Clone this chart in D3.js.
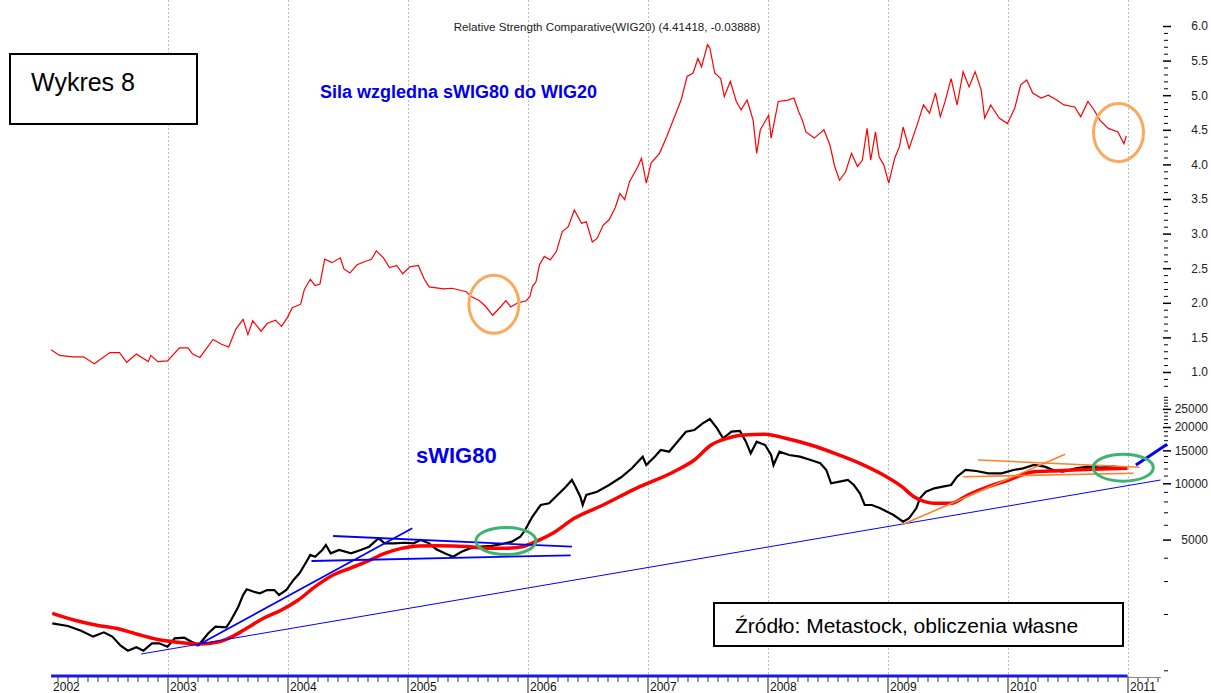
<!DOCTYPE html>
<html>
<head>
<meta charset="utf-8">
<script src="https://cdn.jsdelivr.net/npm/d3@7"></script>
<style>
  html, body { margin: 0; padding: 0; background: #fff; }
  svg { display: block; font-family: "Liberation Sans", Arial, sans-serif; }
</style>
</head>
<body>
<svg id="chart" width="1211" height="693"></svg>
<script>
// Relative strength sWIG80 / WIG20 (decimal year, value)
const rsYears = [2002.03,2002.10,2002.21,2002.30,2002.39,2002.52,2002.60,2002.66,2002.74,2002.84,2002.86,2002.92,
  2003.00,2003.10,2003.17,2003.21,2003.27,2003.38,2003.45,2003.51,2003.57,2003.63,2003.67,2003.71,2003.78,2003.83,2003.90,2003.95,
  2004.00,2004.04,2004.11,2004.14,2004.19,2004.23,2004.27,2004.31,2004.37,2004.44,2004.47,2004.52,2004.58,2004.65,2004.70,2004.74,2004.80,2004.85,2004.91,2004.96,
  2005.02,2005.09,2005.14,2005.18,2005.30,2005.37,2005.49,2005.53,2005.60,2005.65,2005.71,2005.78,2005.82,2005.86,2005.92,2005.99,
  2006.02,2006.04,2006.07,2006.10,2006.14,2006.19,2006.24,2006.29,2006.34,2006.39,2006.45,2006.49,2006.54,2006.58,2006.63,2006.68,2006.73,2006.77,2006.81,2006.85,2006.92,2006.95,2006.99,
  2007.03,2007.10,2007.16,2007.23,2007.28,2007.33,2007.38,2007.42,2007.45,2007.50,2007.52,2007.56,2007.61,2007.64,2007.69,2007.74,2007.78,2007.83,2007.88,2007.91,2007.94,
  2008.01,2008.03,2008.09,2008.17,2008.22,2008.26,2008.29,2008.32,2008.39,2008.47,2008.52,2008.56,2008.60,2008.65,2008.70,2008.75,2008.79,2008.83,2008.86,2008.90,2008.93,2008.97,
  2009.01,2009.06,2009.10,2009.13,2009.18,2009.25,2009.30,2009.35,2009.40,2009.44,2009.48,2009.53,2009.58,2009.63,2009.68,2009.73,2009.78,2009.81,2009.86,2009.93,
  2010.00,2010.06,2010.11,2010.16,2010.21,2010.28,2010.34,2010.41,2010.47,2010.56,2010.61,2010.67,2010.72,2010.77,2010.84,2010.92,2010.97,2010.99];
const rsValues = [1.32,1.24,1.22,1.22,1.12,1.28,1.28,1.14,1.26,1.15,1.24,1.15,
  1.16,1.35,1.35,1.26,1.21,1.47,1.40,1.36,1.62,1.76,1.54,1.74,1.59,1.70,1.75,1.66,
  1.79,1.93,1.98,2.19,2.34,2.25,2.27,2.63,2.58,2.65,2.49,2.43,2.55,2.60,2.63,2.75,2.65,2.51,2.54,2.42,
  2.52,2.54,2.34,2.23,2.20,2.21,2.16,2.09,2.03,1.95,1.82,1.95,2.03,1.94,2.00,2.03,
  2.09,2.23,2.30,2.55,2.67,2.62,2.74,3.03,3.10,3.34,3.15,3.17,2.88,2.93,3.12,3.20,3.37,3.58,3.49,3.75,3.97,4.09,3.73,
  4.02,4.16,4.40,4.71,4.93,5.27,5.32,5.53,5.41,5.73,5.68,5.32,5.24,4.98,5.20,4.91,4.79,4.93,4.64,4.16,4.50,
  4.71,4.38,4.91,4.93,4.96,4.76,4.64,4.47,4.38,4.50,4.28,3.97,3.77,3.89,4.16,3.97,4.06,4.52,4.06,4.47,4.11,3.99,
  3.73,4.09,4.26,4.54,4.23,4.59,4.86,4.74,5.03,4.69,4.91,5.24,4.86,5.34,5.12,5.34,5.08,4.67,4.86,4.67,
  4.59,4.81,5.15,5.22,5.03,4.96,5.00,4.93,4.86,4.83,4.69,4.91,4.79,4.64,4.52,4.47,4.30,4.41];

// sWIG80 index
const idxYears = [2002.04,2002.17,2002.28,2002.38,2002.47,2002.54,2002.61,2002.67,2002.74,2002.80,2002.87,2002.93,
  2003.00,2003.06,2003.14,2003.20,2003.26,2003.34,2003.40,2003.49,2003.53,2003.59,2003.63,2003.66,2003.72,2003.77,2003.83,2003.89,2003.93,2003.99,
  2004.05,2004.10,2004.15,2004.19,2004.23,2004.29,2004.32,2004.36,2004.43,2004.53,2004.61,2004.68,2004.76,2004.81,2004.89,2004.98,
  2005.05,2005.11,2005.18,2005.24,2005.31,2005.38,2005.45,2005.52,2005.61,2005.70,2005.78,2005.87,2005.94,2005.98,
  2006.04,2006.11,2006.18,2006.25,2006.32,2006.37,2006.40,2006.44,2006.46,2006.49,2006.58,2006.68,2006.78,2006.87,2006.96,2006.99,
  2007.06,2007.11,2007.18,2007.25,2007.32,2007.39,2007.46,2007.52,2007.58,2007.63,2007.70,2007.77,2007.82,2007.86,2007.91,2007.98,
  2008.03,2008.05,2008.10,2008.18,2008.27,2008.36,2008.44,2008.49,2008.53,2008.60,2008.67,2008.72,2008.77,2008.81,2008.87,2008.94,
  2009.05,2009.13,2009.18,2009.24,2009.27,2009.32,2009.39,2009.46,2009.53,2009.58,2009.65,2009.74,2009.84,2009.95,
  2010.05,2010.13,2010.22,2010.31,2010.38,2010.46,2010.57,2010.67,2010.77,2010.88,2010.98];
const idxValues = [1783,1726,1629,1514,1596,1514,1354,1273,1327,1273,1394,1394,
  1337,1483,1494,1422,1365,1577,1711,1698,1858,2188,2529,2711,2631,2582,2687,2687,2529,2687,
  3041,3303,3734,4138,4049,4399,4677,4223,4399,4223,4399,4581,5081,4775,4775,4810,
  4775,4977,4775,4436,4223,4049,4306,4488,4581,4624,4721,4875,5177,5626,
  6625,7656,7820,8660,9590,10414,9590,8478,7656,8660,9018,9793,10773,12027,13877,12528,
  13877,15066,14757,16691,18880,19275,20939,22080,19676,17400,18880,19046,16691,14467,16691,16022,
  14170,12528,14757,14170,13877,13323,12793,11780,10000,10199,10414,9793,8841,7656,7656,7351,
  6767,6230,6500,7351,8314,9018,9403,9590,9793,10846,11780,11636,11310,11310,
  11780,12027,12528,12270,11780,11536,12027,12270,12118,12270,12118];

// moving average of sWIG80
const maYears = [2002.04,2002.22,2002.40,2002.57,2002.74,2002.91,2003.09,2003.26,2003.43,2003.54,2003.66,2003.80,2003.95,
  2004.09,2004.23,2004.38,2004.52,2004.66,2004.81,2004.95,2005.09,2005.24,2005.38,2005.52,2005.67,2005.81,2005.955,
  2006.10,2006.21,2006.39,2006.63,2006.905,2007.22,2007.39,2007.53,2007.665,2007.80,2007.98,2008.15,2008.36,2008.56,2008.77,2008.94,
  2009.12,2009.22,2009.31,2009.39,2009.53,2009.67,2009.84,2010.01,2010.22,2010.43,2010.705,2011.00];
const maValues = [2018,1858,1747,1679,1564,1465,1412,1383,1422,1514,1679,1897,2101,
  2377,2800,3234,3512,3811,4223,4488,4624,4640,4624,4581,4488,4488,4581,
  4977,5405,6500,7656,9403,11536,13323,16022,17400,18130,18280,17400,16022,14467,12793,11310,
  9590,8478,7975,7820,7820,8660,9590,10414,11536,11676,11880,12027];

// hand-drawn annotations, [year, value] end points
const supportLine = [[2002.78, 1222], [2011.275, 10414]];
const blueTrends = [
  [[2003.24, 1349], [2005.04, 5744]],
  [[2004.38, 5227], [2006.37, 4581]],
  [[2004.20, 3841], [2006.36, 4121]]
];
const breakoutLine = [[2011.07, 12528], [2011.33, 16166]];
const orangeTrends = [
  [[2009.13, 6035], [2010.48, 14296]],
  [[2009.755, 13323], [2011.10, 12179]],
  [[2009.63, 10846], [2011.05, 11310]]
];
const rsCircles = [[2005.72, 1.98], [2010.925, 4.46]];
const idxEllipses = [[2005.82, 4913], [2010.965, 12118]];

const yearLabels = [2003, 2004, 2005, 2006, 2007, 2008, 2009, 2010, 2011];
const rsTicksMajor = [1.0, 1.5, 2.0, 2.5, 3.0, 3.5, 4.0, 4.5, 5.0, 5.5, 6.0];
const idxTicksMajor = [5000, 10000, 15000, 20000, 25000];

const title = "Relative Strength Comparative(WIG20) (4.41418, -0.03888)";

const svg = d3.select("#chart");

const x = d3.scaleLinear().domain([2002, 2011]).range([47.5, 1127.5]);
const yRs = d3.scaleLinear().domain([1, 6]).range([372, 26]);
const yIdx = d3.scaleLog().domain([1000, 10000]).range([670.3, 483.3]);

// year grid
svg.append("g")
  .selectAll("line")
  .data(yearLabels)
  .join("line")
  .attr("x1", d => Math.round(x(d)) + 0.5).attr("x2", d => Math.round(x(d)) + 0.5)
  .attr("y1", 0).attr("y2", 675)
  .attr("stroke", "#bbb")
  .attr("stroke-dasharray", "2,2");

// right axes
const rsMinor = d3.range(8, 61).map(d => d / 10).filter(d => Math.round(d * 10) % 5 !== 0);
svg.append("g")
  .attr("transform", "translate(1164,0)")
  .call(d3.axisRight(yRs).tickValues(rsMinor).tickSize(4).tickFormat(""))
  .call(g => g.select(".domain").remove());
svg.append("g")
  .attr("transform", "translate(1163,0)")
  .call(d3.axisRight(yRs).tickValues(rsTicksMajor).tickSize(8).tickFormat(d3.format(".1f")))
  .call(g => g.select(".domain").remove())
  .call(g => g.selectAll("line").attr("stroke-width", 1.5))
  .call(g => g.selectAll("text").attr("x", 45).attr("text-anchor", "end")
    .style("font-size", "12px").attr("fill", "#222"));

const idxMinor = d3.range(1000, 31000, 1000).filter(d => d % 5000 !== 0);
svg.append("g")
  .attr("transform", "translate(1164,0)")
  .call(d3.axisRight(yIdx).tickValues(idxMinor).tickSize(4).tickFormat(""))
  .call(g => g.select(".domain").remove());
svg.append("g")
  .attr("transform", "translate(1163,0)")
  .call(d3.axisRight(yIdx).tickValues(idxTicksMajor).tickSize(8).tickFormat(d3.format("d")))
  .call(g => g.select(".domain").remove())
  .call(g => g.selectAll("line").attr("stroke-width", 1.5))
  .call(g => g.selectAll("text").attr("x", 45).attr("text-anchor", "end")
    .style("font-size", "12px").attr("fill", "#222"));

// bottom time axis
const dataStart = rsYears[0];
const months = [];
for (let yr = 2002; yr <= 2011; yr++) {
  for (let m = 0; m < 12; m++) {
    const v = yr + m / 12;
    if (m !== 0 && x(v) >= x(dataStart) && x(v) <= 1160) months.push(v);
  }
}
svg.append("g")
  .attr("transform", "translate(0,677)")
  .call(d3.axisBottom(x).tickValues(months).tickSize(5).tickFormat(""))
  .call(g => g.select(".domain").remove())
  .call(g => g.selectAll("line").attr("stroke", "#333"));
svg.append("g")
  .attr("transform", "translate(0,676)")
  .call(d3.axisBottom(x).tickValues(yearLabels).tickSize(17).tickFormat(d3.format("d")))
  .call(g => g.select(".domain").remove())
  .call(g => g.selectAll("line").attr("stroke", "#222"))
  .call(g => g.selectAll("text").attr("x", 2).attr("y", 6).attr("text-anchor", "start")
    .style("font-size", "12px").attr("fill", "#111"));
svg.append("text")
  .attr("x", x(dataStart) + 2).attr("y", 691)
  .style("font-size", "12px").attr("fill", "#111")
  .text("2002");
svg.append("line")
  .attr("x1", x(2011)).attr("x2", 1161).attr("y1", 677.5).attr("y2", 677.5)
  .attr("stroke", "#888");
svg.append("line")
  .attr("x1", x(dataStart)).attr("x2", x(2011)).attr("y1", 676).attr("y2", 676)
  .attr("stroke", "#1a1adf").attr("stroke-width", 3);

// relative strength line
const rsData = rsYears.map((d, i) => [d, rsValues[i]]);
svg.append("path")
  .datum(rsData)
  .attr("fill", "none")
  .attr("stroke", "#ff0000")
  .attr("stroke-width", 1.2)
  .attr("d", d3.line().x(d => x(d[0])).y(d => yRs(d[1])));

// sWIG80 and moving average
const idxLine = d3.line().x(d => x(d[0])).y(d => yIdx(d[1]));
svg.append("path")
  .datum(idxYears.map((d, i) => [d, idxValues[i]]))
  .attr("fill", "none")
  .attr("stroke", "#000")
  .attr("stroke-width", 2.2)
  .attr("d", idxLine);
svg.append("path")
  .datum(maYears.map((d, i) => [d, maValues[i]]))
  .attr("fill", "none")
  .attr("stroke", "#ff0000")
  .attr("stroke-width", 3.5)
  .attr("d", idxLine.curve(d3.curveMonotoneX));
idxLine.curve(d3.curveLinear);

// trend lines
svg.append("path").datum(supportLine)
  .attr("fill", "none").attr("stroke", "#0000ff").attr("stroke-width", 1)
  .attr("d", idxLine);
svg.append("g").selectAll("path").data(blueTrends).join("path")
  .attr("fill", "none").attr("stroke", "#0000ff").attr("stroke-width", 1.8)
  .attr("d", idxLine);
svg.append("g").selectAll("path").data(orangeTrends).join("path")
  .attr("fill", "none").attr("stroke", "#ff7f2a").attr("stroke-width", 1.6)
  .attr("d", idxLine);
svg.append("path").datum(breakoutLine)
  .attr("fill", "none").attr("stroke", "#0000ff").attr("stroke-width", 3)
  .attr("d", idxLine);

// highlight circles
svg.append("g").selectAll("ellipse").data(rsCircles).join("ellipse")
  .attr("cx", d => x(d[0])).attr("cy", d => yRs(d[1]))
  .attr("rx", 25).attr("ry", 29)
  .attr("fill", "none").attr("stroke", "#fba95c").attr("stroke-width", 3);
svg.append("g").selectAll("ellipse").data(idxEllipses).join("ellipse")
  .attr("cx", d => x(d[0])).attr("cy", d => yIdx(d[1]))
  .attr("rx", 30).attr("ry", 13.5)
  .attr("fill", "none").attr("stroke", "#3cb371").attr("stroke-width", 3);

// labels
svg.append("text")
  .attr("x", 607).attr("y", 31).attr("text-anchor", "middle")
  .style("font-size", "11.6px").attr("fill", "#222")
  .text(title);

svg.append("rect")
  .attr("x", 10).attr("y", 54).attr("width", 187).attr("height", 70)
  .attr("fill", "#fff").attr("stroke", "#000").attr("stroke-width", 2);
svg.append("text")
  .attr("x", 31).attr("y", 91)
  .style("font-size", "25px").attr("fill", "#000")
  .text("Wykres 8");

svg.append("text")
  .attr("x", 320).attr("y", 98)
  .style("font-size", "18px").style("font-weight", "bold").attr("fill", "#0000ee")
  .text("Sila wzgledna sWIG80 do WIG20");

svg.append("text")
  .attr("x", 416).attr("y", 463)
  .style("font-size", "22px").style("font-weight", "bold").attr("fill", "#0000ee")
  .text("sWIG80");

svg.append("rect")
  .attr("x", 714).attr("y", 603).attr("width", 409).attr("height", 43)
  .attr("fill", "#fff").attr("stroke", "#000").attr("stroke-width", 2);
svg.append("text")
  .attr("x", 735).attr("y", 633)
  .style("font-size", "21px").attr("fill", "#000")
  .text("Źródło: Metastock, obliczenia własne");
</script>
</body>
</html>
